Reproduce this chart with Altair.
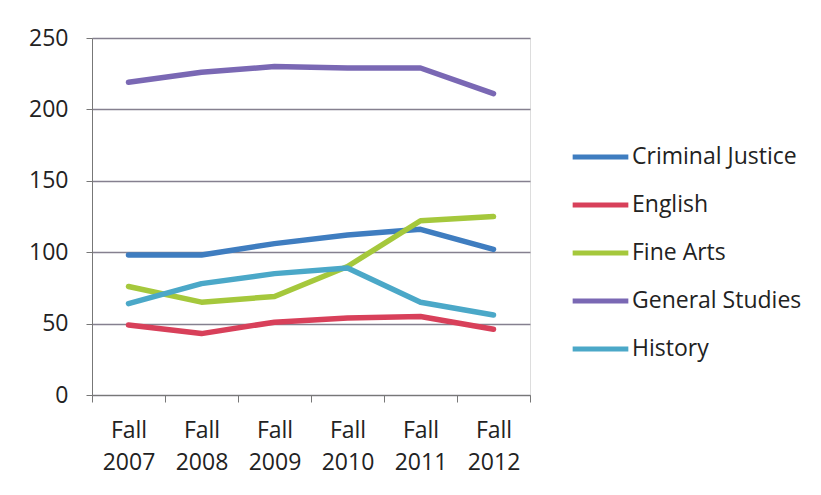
import altair as alt
import pandas as pd

years = ["Fall 2007", "Fall 2008", "Fall 2009", "Fall 2010", "Fall 2011", "Fall 2012"]
series_names = ["Criminal Justice", "English", "Fine Arts", "General Studies", "History"]
criminal_justice = [98, 98, 106, 112, 116, 102]
english = [49, 43, 51, 54, 55, 46]
fine_arts = [76, 65, 69, 90, 122, 125]
general_studies = [219, 226, 230, 229, 229, 211]
history = [64, 78, 85, 89, 65, 56]
colors = ["#3F7DC0", "#D8405A", "#A5C83C", "#7A68B4", "#4BA8C8"]
y_ticks = [0, 50, 100, 150, 200, 250]

values = [criminal_justice, english, fine_arts, general_studies, history]
rows = []
for name, vals in zip(series_names, values):
    for yr, v in zip(years, vals):
        rows.append({"year": yr, "series": name, "value": v})
df = pd.DataFrame(rows)

FONT = "Open Sans"
FS = 23

chart = alt.Chart(df).mark_line(strokeWidth=5.5, strokeCap="round", strokeJoin="round").encode(
    x=alt.X("year:N", sort=years, title=None,
            scale=alt.Scale(type="band", paddingInner=0, paddingOuter=0),
            bandPosition=0.5,
            axis=alt.Axis(labelAngle=0, tickBand="extent",
                          labelExpr="isValid(datum.value) ? split(datum.value, ' ') : ''",
                          labelFontSize=FS, labelLineHeight=32, labelPadding=17,
                          tickSize=7, tickColor="#777", domainColor="#777", labelColor="#222",
                          labelFont=FONT, grid=False)),
    y=alt.Y("value:Q", title=None,
            scale=alt.Scale(domain=[0, 250], nice=False, zero=True),
            axis=alt.Axis(values=y_ticks, labelFontSize=FS, labelPadding=18, tickSize=6,
                          tickColor="#777", domainColor="#777", gridColor="#85808f",
                          gridWidth=1.3, labelColor="#222", labelFont=FONT)),
    color=alt.Color("series:N", sort=series_names,
                    scale=alt.Scale(domain=series_names, range=colors),
                    legend=alt.Legend(title=None, orient="none", legendX=478, legendY=95,
                                      symbolType="stroke", symbolSize=3100, symbolStrokeWidth=5,
                                      labelFontSize=FS, labelFont=FONT, labelColor="#222",
                                      labelLimit=400,
                                      labelOffset=1, clipHeight=48, rowPadding=0)),
).properties(
    width=438, height=357,
    padding={"left": 84, "top": 30, "right": 283, "bottom": 92},
    autosize=alt.AutoSizeParams(type="none"),
).configure_view(stroke=None).configure(background="white")

chart.save("out.html", embed_options={"renderer": "svg", "actions": False})
